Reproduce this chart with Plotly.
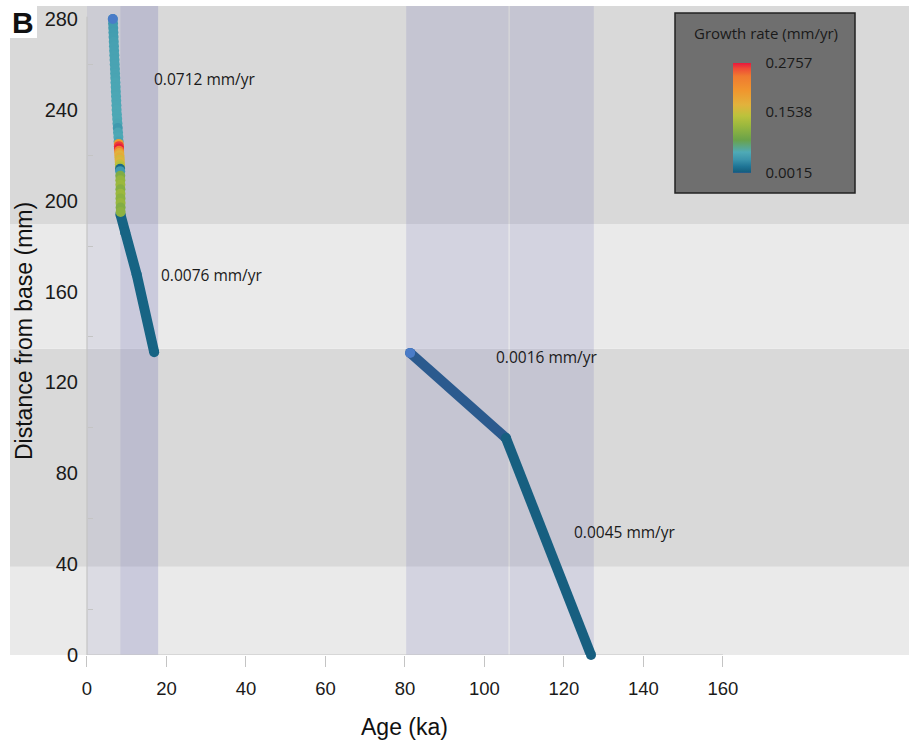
import plotly.graph_objects as go
from plotly.colors import sample_colorscale

# ---------------- data ----------------
# colour-coded top section (distance mm, age ka, growth rate mm/yr)
col_dist = [280, 278, 276, 274, 272, 270, 268, 266, 264, 262, 260, 258, 256, 254, 252, 250, 248, 246, 244, 242,
            240, 238, 236, 234, 232, 230, 228, 226,
            225, 224, 223, 222, 221, 220, 219, 218, 217, 216, 215, 214, 213,
            211, 209, 207, 205, 203, 201, 199, 197, 195]
col_age = [6.50, 6.55, 6.60, 6.64, 6.69, 6.74, 6.79, 6.83, 6.88, 6.93, 6.98, 7.03, 7.07, 7.12, 7.17, 7.22, 7.26, 7.31, 7.36, 7.41,
           7.45, 7.52, 7.60, 7.67, 7.74, 7.81, 7.89, 7.96,
           7.99, 8.02, 8.05, 8.08, 8.12, 8.15, 8.18, 8.21, 8.24, 8.27, 8.30, 8.33, 8.35,
           8.37, 8.39, 8.40, 8.41, 8.42, 8.43, 8.44, 8.45, 8.46]
col_rate = [0.040, 0.041, 0.042, 0.043, 0.044, 0.045, 0.046, 0.046, 0.047, 0.047, 0.048, 0.048, 0.049, 0.049, 0.050, 0.050, 0.050, 0.051, 0.051, 0.051,
            0.052, 0.052, 0.052, 0.050, 0.040, 0.050, 0.052, 0.048,
            0.200, 0.265, 0.275, 0.240, 0.190, 0.170, 0.180, 0.160, 0.170, 0.150, 0.140, 0.010, 0.040,
            0.100, 0.115, 0.120, 0.105, 0.120, 0.110, 0.118, 0.102, 0.110]

# linear segments
seg_age = [[8.4, 9.6, 12.5, 16.9], [81.3, 105.4], [105.4, 126.8]]
seg_dist = [[194, 186, 167.5, 133.3], [133.0, 95.5], [95.5, 0.0]]
seg_rate = [0.0076, 0.0016, 0.0045]

# segment start points (blue dots)
start_age = [6.5, 81.3]
start_dist = [280, 133.0]

# rate labels
label_text = ["0.0712 mm/yr", "0.0076 mm/yr", "0.0016 mm/yr", "0.0045 mm/yr"]
label_age = [16.4, 18.2, 102.4, 122.1]
label_dist = [253.5, 167.5, 131.0, 54.2]

# background zones
hband_lo = [0, 38.8, 134.8, 189.6]
hband_hi = [38.8, 134.8, 189.6, 300]
hband_col = ["#eaeaea", "#d9d9d9", "#eaeaea", "#d9d9d9"]
vband_lo = [0.0, 8.4, 80.3, 106.35]
vband_hi = [8.4, 17.9, 106.05, 127.5]
vband_alpha = [0.12, 0.28, 0.2, 0.2]

x_ticks = [0, 20, 40, 60, 80, 100, 120, 140, 160]
y_ticks = [0, 40, 80, 120, 160, 200, 240, 280]
y_minor = [20, 60, 100, 140, 180, 220, 260]
cbar_ticks = [0.0015, 0.1538, 0.2757]

cmin, cmax = 0.0015, 0.2757
cs = [[0.0, '#2c5a8e'], [0.012, '#15607f'], [0.06, '#1f7596'], [0.12, '#3a93ab'],
      [0.19, '#4faab6'], [0.3, '#6aa24a'], [0.43, '#9ab83e'], [0.52, '#bcc23c'],
      [0.62, '#e2b23c'], [0.75, '#f0962e'], [0.88, '#f07a30'], [0.95, '#ee4a36'], [1.0, '#e8183e']]

# ---------------- geometry ----------------
W, H = 909, 740
ML, MR, MT, MB = 10, 0, 6, 85
PW, PH = W - ML - MR, H - MT - MB
X_RANGE = [-19.37, 206.8]
Y_RANGE = [0, 285.7]

def px_x(p):
    return (p - ML) / PW

def px_y(p):
    return (H - MB - p) / PH

fig = go.Figure()

shapes = []
for lo, hi, c in zip(hband_lo, hband_hi, hband_col):
    shapes.append(dict(type="rect", xref="paper", yref="y", x0=0, x1=1, y0=lo, y1=hi,
                       fillcolor=c, line=dict(width=0), layer="below"))
for lo, hi, a in zip(vband_lo, vband_hi, vband_alpha):
    shapes.append(dict(type="rect", xref="x", yref="paper", x0=lo, x1=hi, y0=0, y1=1,
                       fillcolor=f"rgba(119,119,184,{a})", line=dict(width=0), layer="below"))
# axis lines
shapes.append(dict(type="line", xref="x", yref="y", x0=x_ticks[0], x1=x_ticks[-1], y0=0, y1=0,
                   line=dict(color="#c4c4c4", width=1.2), layer="below"))
shapes.append(dict(type="line", xref="x", yref="y", x0=0, x1=0, y0=0, y1=281,
                   line=dict(color="#c4c4c4", width=1.2), layer="below"))
# white box behind panel letter
shapes.append(dict(type="rect", xref="paper", yref="paper", x0=px_x(10), x1=px_x(37), y0=px_y(38), y1=px_y(5),
                   fillcolor="white", line=dict(width=0), layer="above"))
# legend box
shapes.append(dict(type="rect", xref="paper", yref="paper", x0=px_x(675), x1=px_x(855), y0=px_y(193), y1=px_y(13),
                   fillcolor="#6f6f6f", line=dict(color="#222222", width=1.5), layer="above"))

# segments
for a, d, r in zip(seg_age, seg_dist, seg_rate):
    c = sample_colorscale(cs, [(r - cmin) / (cmax - cmin)])[0]
    fig.add_trace(go.Scatter(x=a, y=d, mode="lines+markers", cliponaxis=False,
                             line=dict(color=c, width=10),
                             marker=dict(color=c, size=10, line=dict(width=0)),
                             hoverinfo="skip", showlegend=False))

# colour-coded points
fig.add_trace(go.Scatter(
    x=col_age, y=col_dist, mode="markers", cliponaxis=False,
    marker=dict(color=col_rate, colorscale=cs, cmin=cmin, cmax=cmax, size=10, line=dict(width=0),
                showscale=True,
                colorbar=dict(x=px_x(733), xanchor="left", xpad=0,
                              y=px_y(117.7), yanchor="middle", ypad=0,
                              len=110, lenmode="pixels", thickness=18, thicknessmode="pixels",
                              outlinewidth=0, bgcolor="rgba(0,0,0,0)", borderwidth=0,
                              tickmode="array", tickvals=cbar_ticks,
                              ticktext=[f"{v:.4f}" for v in cbar_ticks],
                              ticks="outside", ticklen=12, tickcolor="rgba(0,0,0,0)",
                              tickfont=dict(family="Open Sans", size=15, color="#1a1a1a"))),
    showlegend=False, hoverinfo="skip"))

# start dots
fig.add_trace(go.Scatter(x=start_age, y=start_dist, mode="markers", cliponaxis=False,
                         marker=dict(color="#4a7cc8", size=10, line=dict(width=0)),
                         showlegend=False, hoverinfo="skip"))

annotations = []
for t, a, d in zip(label_text, label_age, label_dist):
    annotations.append(dict(x=a, y=d, xref="x", yref="y", text=t, showarrow=False,
                            xanchor="left", yanchor="middle",
                            font=dict(family="Open Sans", size=15.5, color="#1a1a1a")))
annotations.append(dict(x=px_x(766), y=px_y(33), xref="paper", yref="paper", text="Growth rate (mm/yr)",
                        showarrow=False, xanchor="center", yanchor="middle",
                        font=dict(family="Open Sans", size=15, color="#1a1a1a")))
annotations.append(dict(x=px_x(23), y=px_y(22), xref="paper", yref="paper", text="<b>B</b>",
                        showarrow=False, xanchor="center", yanchor="middle",
                        font=dict(family="Liberation Sans", size=30, color="#111111")))
annotations.append(dict(x=(x_ticks[0] + x_ticks[-1]) / 2, y=px_y(727), xref="x", yref="paper", text="Age (ka)",
                        showarrow=False, xanchor="center", yanchor="middle",
                        font=dict(family="Liberation Sans", size=23, color="#111111")))
annotations.append(dict(x=px_x(24), y=px_y(331), xref="paper", yref="paper", text="Distance from base (mm)",
                        showarrow=False, xanchor="center", yanchor="middle", textangle=-90,
                        font=dict(family="Liberation Sans", size=23, color="#111111")))

fig.update_layout(
    width=W, height=H, margin=dict(l=ML, r=MR, t=MT, b=MB, pad=0),
    paper_bgcolor="white", plot_bgcolor="white",
    shapes=shapes, annotations=annotations,
    xaxis=dict(range=X_RANGE, tickmode="array", tickvals=x_ticks, showgrid=False, zeroline=False,
               showline=False, ticks="outside", ticklen=11, tickcolor="#c4c4c4", tickwidth=1,
               ticklabelstandoff=6,
               tickfont=dict(family="Liberation Sans", size=18.5, color="#1a1a1a")),
    yaxis=dict(range=Y_RANGE, tickmode="array", tickvals=y_ticks, showgrid=False, zeroline=False,
               showline=False, anchor="free", position=px_x(87), ticks="", ticklabelstandoff=9,
               minor=dict(tickmode="array", tickvals=y_minor, ticks="inside", ticklen=5,
                          tickcolor="#c4c4c4", showgrid=False),
               tickfont=dict(family="Liberation Sans", size=20, color="#1a1a1a")),
)

fig.write_html("out.html", config={"displayModeBar": False},
               post_script="document.body.style.margin='0';document.body.style.overflow='hidden';")
